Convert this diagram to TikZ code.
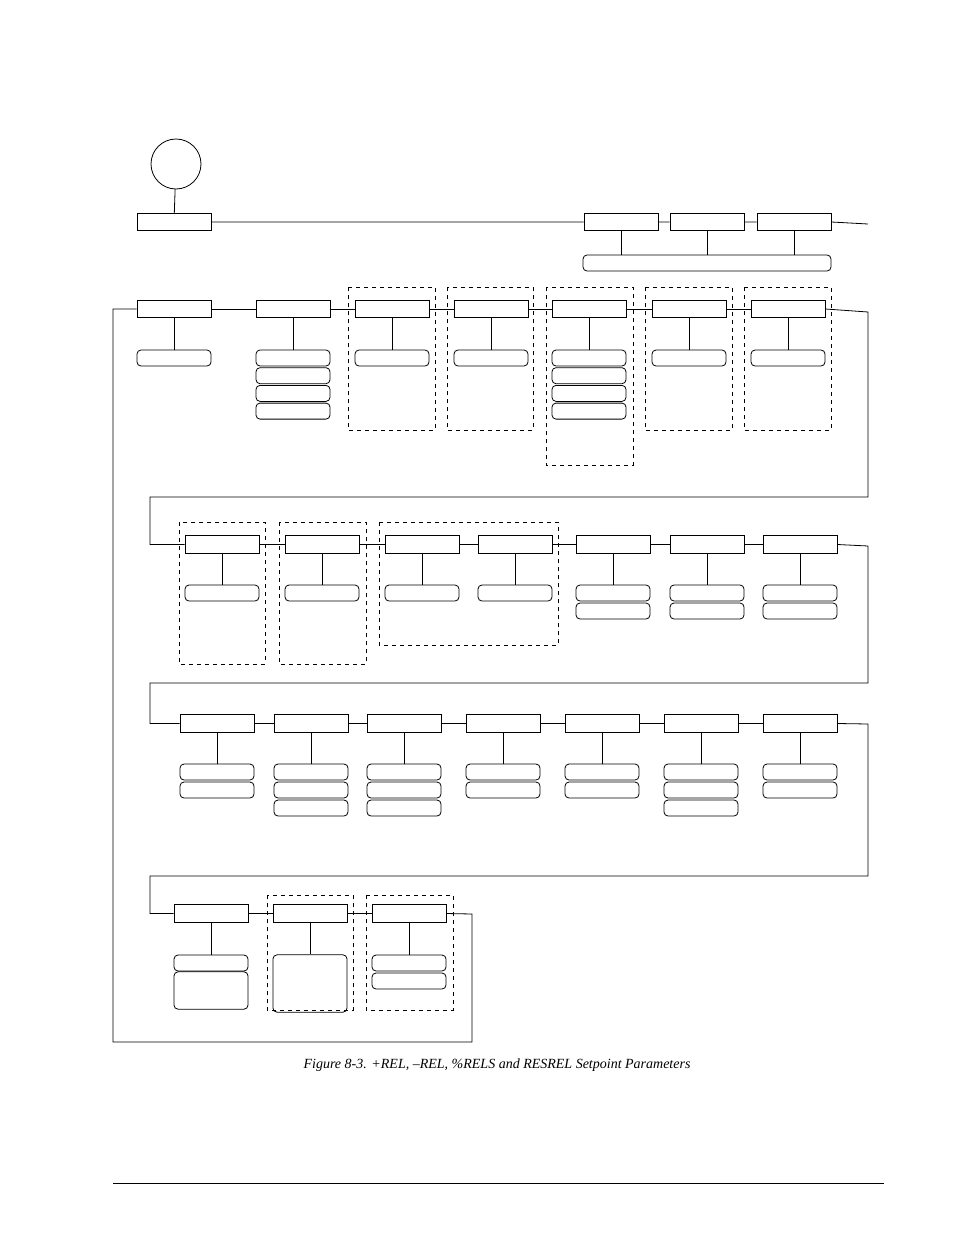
\documentclass[tikz,border=0pt]{standalone}
\usepackage{fontspec}
\setmainfont{Liberation Serif}
\begin{document}
\begin{tikzpicture}[x=0.75pt,y=-0.75pt,line width=0.6pt,
  param/.style={draw,minimum width=55.5pt,minimum height=13pt,inner sep=0pt},
  value/.style={draw,rounded corners=3pt,minimum width=55.5pt,minimum height=12pt,inner sep=0pt},
  group/.style={draw,dashed,line width=0.5pt}]
  \useasboundingbox (0,0) rectangle (954,1235);
  % top
  \node[draw,circle,minimum size=37.5pt] (menu) at (176,164) {};
  \node[param] (top) at (174,222) {};
  \node[param] (ta) at (621,222) {};
  \node[param] (tb) at (707,222) {};
  \node[param] (tc) at (794,222) {};
  \node[value,minimum width=186pt] (tall) at (707,263) {};
  \coordinate (tend) at (868,224);
  \draw (top.east) -- (ta.west) (ta) -- (tb) (tb) -- (tc) (tc.east) -- (tend);
  \foreach \n in {ta,tb,tc} \draw (\n.south) -- (\n.south |- tall.north);
  \draw (menu) -- (top);
  % groups
  \draw[group] (348,287) rectangle (435,430);
  \draw[group] (447,287) rectangle (533,430);
  \draw[group] (546,287) rectangle (633,465);
  \draw[group] (645,287) rectangle (732,430);
  \draw[group] (744,287) rectangle (831,430);
  \draw[group] (179,522) rectangle (265,664);
  \draw[group] (279,522) rectangle (366,664);
  \draw[group] (379,522) rectangle (558,645);
  \draw[group] (267,895) rectangle (353,1010);
  \draw[group] (366,895) rectangle (453,1010);
  % row 1
  \foreach \i/\x/\k in {1/174/1,2/293/4,3/392/1,4/491/1,5/589/4,6/689/1,7/788/1}{
    \node[param] (a\i) at (\x,309) {};
    \foreach \j in {1,...,\k}
      \node[value] (a\i v\j) at (\x,{358+(\j-1)*17.7}) {};
    \draw (a\i) -- (a\i v1);
  }
  \foreach \i [evaluate=\i as \p using int(\i-1)] in {2,...,7} \draw (a\p) -- (a\i);
  % row 2
  \foreach \i/\x/\k in {1/222/1,2/322/1,3/422/1,4/515/1,5/613/2,6/707/2,7/800/2}{
    \node[param] (b\i) at (\x,544.5) {};
    \foreach \j in {1,...,\k}
      \node[value] (b\i v\j) at (\x,{593+(\j-1)*18}) {};
    \draw (b\i) -- (b\i v1);
  }
  \foreach \i [evaluate=\i as \p using int(\i-1)] in {2,...,7} \draw (b\p) -- (b\i);
  % row 3
  \foreach \i/\x/\k in {1/217/2,2/311/3,3/404/3,4/503/2,5/602/2,6/701/3,7/800/2}{
    \node[param] (c\i) at (\x,723.5) {};
    \foreach \j in {1,...,\k}
      \node[value] (c\i v\j) at (\x,{772+(\j-1)*18}) {};
    \draw (c\i) -- (c\i v1);
  }
  \foreach \i [evaluate=\i as \p using int(\i-1)] in {2,...,7} \draw (c\p) -- (c\i);
  % row 4
  \node[param] (d1) at (211,913.5) {};
  \node[param] (d2) at (310,913.5) {};
  \node[param] (d3) at (409,913.5) {};
  \node[value] (d1v1) at (211,963) {};
  \node[value,minimum height=28pt] (d1v2) at (211,990.5) {};
  \node[value,minimum height=43pt] (d2v1) at (310,983.5) {};
  \node[value] (d3v1) at (409,963) {};
  \node[value] (d3v2) at (409,981) {};
  \draw (d1) -- (d2) (d2) -- (d3);
  \foreach \n/\v in {d1/d1v1,d2/d2v1,d3/d3v1} \draw (\n) -- (\v);
  % loops
  \draw (a7.east) -- (868,312) -- (868,497) -- (150,497) |- (b1.west);
  \draw (b7.east) -- (868,546) -- (868,683) -- (150,683) |- (c1.west);
  \draw (c7.east) -- (868,724) -- (868,876) -- (150,876) |- (d1.west);
  \draw (d3.east) -- (472,914) -- (472,1042) -- (113,1042) |- (a1.west);
  % caption
  \node[font=\fontsize{10.5}{12}\selectfont\itshape] (caption) at (497,1065)
    {Figure 8-3. +REL, --REL, \%RELS and RESREL Setpoint Parameters};
  \draw (113,1183) -- (884,1183);
\end{tikzpicture}
\end{document}
